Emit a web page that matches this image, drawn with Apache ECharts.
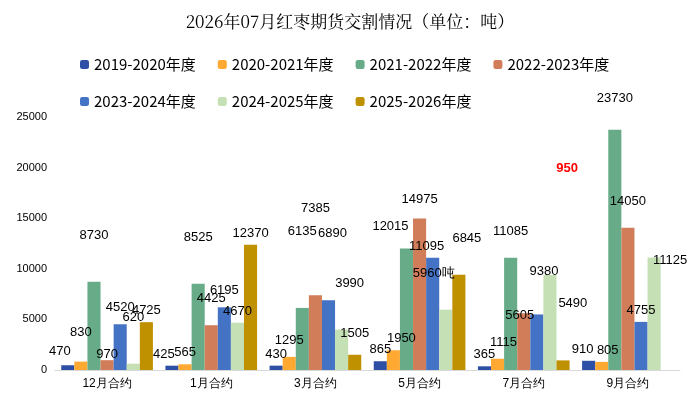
<!DOCTYPE html>
<html><head><meta charset="utf-8">
<script src="https://cdn.jsdelivr.net/npm/echarts@6/dist/echarts.min.js"></script>
<style>html,body{margin:0;background:#fff}#c{width:700px;height:406px}</style>
</head><body><div id="c"></div>
<script>
var categories = ['12月合约', '1月合约', '3月合约', '5月合约', '7月合约', '9月合约'];
var seriesNames = ['2019-2020年度', '2020-2021年度', '2021-2022年度', '2022-2023年度', '2023-2024年度', '2024-2025年度', '2025-2026年度'];
var s1920 = [470, 425, 430, 865, 365, 910];
var s2021 = [830, 565, 1295, 1950, 1115, 805];
var s2122 = [8730, 8525, 6135, 12015, 11085, 23730];
var s2223 = [970, 4425, 7385, 14975, 5605, 14050];
var s2324 = [4520, 6195, 6890, 11095, 5490, 4755];
var s2425 = [620, 4670, 3990, 5960, 9380, 11125];
var s2526 = [4725, 12370, 1505, 9400, 950, null];
var colors = ['#2E4FA6', '#FFA933', '#67AB88', '#D27D59', '#4472C4', '#C5E0B4', '#BF9000'];
var allData = [s1920, s2021, s2122, s2223, s2324, s2425, s2526];
// label text overrides and offsets [series,category] = [text, dx, dy]
var special = {
  '0,0': [null, -8, -2], '1,0': [null, 0, -18], '2,0': [null, 0, -35], '3,0': [null, 0, 6], '4,0': [null, 0, -5], '5,0': [null, 0, -35],
  '0,1': [null, -8, 0], '2,1': [null, 0, -35], '3,1': [null, 0, -15], '4,1': [null, 0, -5],
  '1,2': [null, 0, -5], '2,2': [null, 0, -65], '3,2': [null, 0, -75], '4,2': [null, 4, -55], '5,2': [null, 8, -35], '6,2': [null, 0, -10],
  '1,3': [null, 8, 0], '2,3': [null, -16, -10], '3,3': [null, 0, -8], '4,3': [null, -6, 0], '5,3': ['5960吨', -12, -25], '6,3': ['6845', 8, -25],
  '1,4': [null, 6, -5], '2,4': [null, 0, -15], '3,4': [null, -4, 14], '4,4': [null, 36, 0], '5,4': [null, -6, 8], '6,4': ['950', 4, -180],
  '0,5': [null, -6, 0], '1,5': [null, 6, 0], '2,5': [null, 0, -20], '3,5': [null, 0, -15], '5,5': [null, 16, 15]
};
var series = seriesNames.map(function (n, i) {
  return {
    name: n, type: 'bar', barGap: '0%', barCategoryGap: '12%',
    itemStyle: { color: colors[i] },
    data: allData[i].map(function (v, j) {
      var sp = special[i + ',' + j];
      var d = { value: v };
      if (sp) {
        d.label = { offset: [sp[1], sp[2]] };
        if (sp[0]) d.label.formatter = sp[0];
        if (i === 6 && j === 4) { d.label.color = '#FF0000'; d.label.fontWeight = 'bold'; }
      }
      return d;
    }),
    label: { show: true, position: 'top', color: '#000', fontSize: 13, fontFamily: 'Liberation Sans Narrow, Liberation Sans' }
  };
});
var chart = echarts.init(document.getElementById('c'));
chart.setOption({
  animation: false,
  title: { text: '2026年07月红枣期货交割情况（单位：吨）', left: 'center', top: 8,
    textStyle: { fontFamily: 'Noto Serif CJK SC, Noto Sans CJK SC', fontWeight: 'normal', fontSize: 17, color: '#000' } },
  legend: { top: 52, left: 75, width: 600, itemWidth: 9, itemHeight: 9, itemGap: 22,
    textStyle: { fontSize: 15, color: '#000', fontFamily: 'Noto Sans CJK SC' } },
  grid: { left: 55, right: 20, top: 117, bottom: 36 },
  xAxis: { type: 'category', data: categories, axisTick: { show: false },
    axisLine: { lineStyle: { color: '#D9D9D9' } },
    axisLabel: { color: '#000', fontSize: 12 } },
  yAxis: { type: 'value', min: 0, max: 25000, interval: 5000, splitLine: { show: false },
    axisLabel: { color: '#000', fontSize: 11, formatter: function (v) { return String(v); } } },
  series: series
});
</script></body></html>
